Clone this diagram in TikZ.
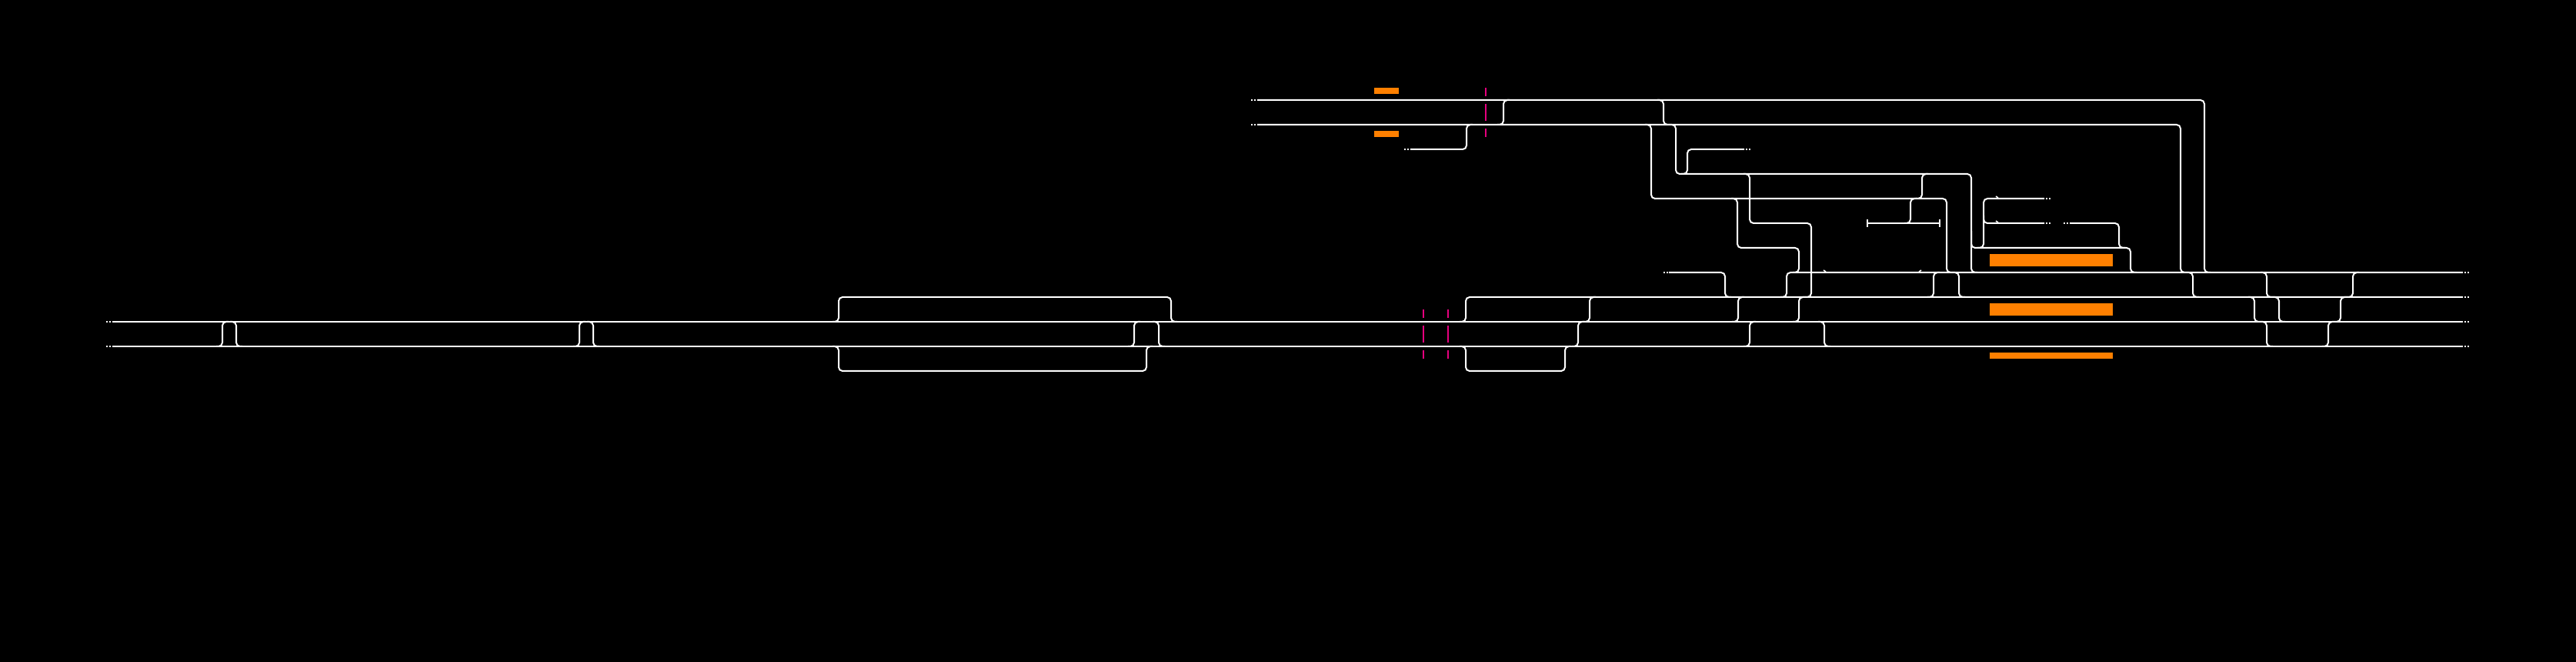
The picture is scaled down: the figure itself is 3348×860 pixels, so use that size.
\documentclass[tikz,border=0pt]{standalone}
\usepackage{tikz}

\definecolor{platformorange}{RGB}{255,128,0}
\definecolor{signalmagenta}{RGB}{230,0,126}

\begin{document}
\begin{tikzpicture}[
    x=0.1mm, y=-0.1mm,
    track/.style={draw=white,line width=0.2mm,rounded corners=0.5mm},
    trackend/.style={draw=white,line width=0.2mm,dash pattern=on 0.2mm off 0.2mm},
    platform/.style={fill=platformorange},
    signal/.style={draw=signalmagenta,line width=0.2mm,dash pattern=on 2.2mm off 1mm,dash phase=1.1mm},
    tick/.style={draw=white,line width=0.15mm}
]

\fill[black] (0,0) rectangle (3348,860);

% Platforms
\fill[platform] (1786,114) rectangle (1818,122);
\fill[platform] (1786,170) rectangle (1818,178);
\fill[platform] (2586,330) rectangle (2746,346);
\fill[platform] (2586,394) rectangle (2746,410);
\fill[platform] (2586,458) rectangle (2746,466);

% Signals
\draw[signal] (1931,114) -- (1931,178);
\draw[signal] (1850,402) -- (1850,466);
\draw[signal] (1882,402) -- (1882,466);

% Main line
\draw[trackend] (138,418) -- (145,418);
\draw[trackend] (138,450) -- (145,450);
\draw[track] (146,418) -- (3201,418);
\draw[track] (146,450) -- (3201,450);
\draw[trackend] (3203,418) -- (3210,418);
\draw[trackend] (3203,450) -- (3210,450);

% Loops along the main line
\draw[track] (1082,418) -- (1090,418) -- (1090,386) -- (1522,386) -- (1522,418) -- (1530,418);
\draw[track] (1082,450) -- (1090,450) -- (1090,482) -- (1490,482) -- (1490,450) -- (1498,450);
\draw[track] (1897,450) -- (1905,450) -- (1905,482) -- (2034,482) -- (2034,450) -- (2042,450);

% Station tracks
\draw[track] (1897,418) -- (1905,418) -- (1905,386) -- (3201,386);
\draw[trackend] (3203,386) -- (3210,386);
\draw[trackend] (2162,354) -- (2168,354);
\draw[track] (2169,354) -- (2242,354) -- (2242,386) -- (2250,386);
\draw[track] (2314,386) -- (2322,386) -- (2322,354) -- (3201,354);
\draw[trackend] (3203,354) -- (3210,354);

% Upper branch
\draw[trackend] (1626,130) -- (1633,130);
\draw[trackend] (1626,162) -- (1633,162);
\draw[track] (1634,130) -- (2865,130) -- (2865,354) -- (2873,354);
\draw[track] (1634,162) -- (2834,162) -- (2834,354) -- (2842,354);
\draw[trackend] (1825,194) -- (1832,194);
\draw[track] (1833,194) -- (1906,194) -- (1906,162) -- (1914,162);
\draw[track] (2185,226) -- (2193,226) -- (2193,194) -- (2267,194);
\draw[trackend] (2269,194) -- (2276,194);
\draw[track] (2170,162) -- (2178,162) -- (2178,226) -- (2562,226) -- (2562,354) -- (2570,354);
\draw[track] (2138,162) -- (2146,162) -- (2146,258) -- (2530,258) -- (2530,354) -- (2538,354);
\draw[track] (2266,226) -- (2274,226) -- (2274,290) -- (2354,290) -- (2354,386) -- (2346,386);
\draw[track] (2250,258) -- (2258,258) -- (2258,322) -- (2338,322) -- (2338,354) -- (2330,354);
\draw[track] (2562,300) -- (2562,322) -- (2769,322) -- (2769,354) -- (2777,354);

% Sidings
\draw[track] (2427,290) -- (2521,290);
\draw[tick] (2427,285) -- (2427,295);
\draw[tick] (2521,285) -- (2521,295);
\draw[track] (2491,258) -- (2483,258) -- (2483,290) -- (2475,290);
\draw[track] (2506,226) -- (2498,226) -- (2498,258) -- (2490,258);
\draw[track] (2657,258) -- (2578,258) -- (2578,322) -- (2570,322);
\draw[track] (2578,280) -- (2578,290) -- (2657,290);
\draw[trackend] (2659,258) -- (2666,258);
\draw[trackend] (2659,290) -- (2666,290);
\draw[trackend] (2682,290) -- (2689,290);
\draw[track] (2690,290) -- (2754,290) -- (2754,322) -- (2762,322);

% Crossovers
\draw[track] (1962,130) -- (1954,130) -- (1954,162) -- (1946,162);
\draw[track] (2154,130) -- (2162,130) -- (2162,162) -- (2170,162);
\draw[track] (2521,354) -- (2513,354) -- (2513,386) -- (2505,386);
\draw[track] (2538,354) -- (2546,354) -- (2546,386) -- (2554,386);
\draw[track] (2842,354) -- (2850,354) -- (2850,386) -- (2858,386);
\draw[track] (2938,354) -- (2946,354) -- (2946,386) -- (2954,386);
\draw[track] (3066,354) -- (3058,354) -- (3058,386) -- (3050,386);
\draw[track] (2074,386) -- (2066,386) -- (2066,418) -- (2058,418);
\draw[track] (2267,386) -- (2259,386) -- (2259,418) -- (2251,418);
\draw[track] (2346,386) -- (2338,386) -- (2338,418) -- (2330,418);
\draw[track] (2922,386) -- (2930,386) -- (2930,418) -- (2938,418);
\draw[track] (2954,386) -- (2962,386) -- (2962,418) -- (2970,418);
\draw[track] (3050,386) -- (3042,386) -- (3042,418) -- (3034,418);
\draw[track] (297,418) -- (289,418) -- (289,450) -- (281,450);
\draw[track] (299,418) -- (307,418) -- (307,450) -- (315,450);
\draw[track] (761,418) -- (753,418) -- (753,450) -- (745,450);
\draw[track] (763,418) -- (771,418) -- (771,450) -- (779,450);
\draw[track] (1482,418) -- (1474,418) -- (1474,450) -- (1466,450);
\draw[track] (1498,418) -- (1506,418) -- (1506,450) -- (1514,450);
\draw[track] (2059,418) -- (2051,418) -- (2051,450) -- (2043,450);
\draw[track] (2282,418) -- (2274,418) -- (2274,450) -- (2266,450);
\draw[track] (2363,418) -- (2371,418) -- (2371,450) -- (2379,450);
\draw[track] (2938,418) -- (2946,418) -- (2946,450) -- (2954,450);
\draw[track] (3034,418) -- (3026,418) -- (3026,450) -- (3018,450);

% Direction marks
\draw[tick] (2370,351) -- (2373,353);
\draw[tick] (2497,351) -- (2494,353);
\draw[tick] (2594,255) -- (2597,257);
\draw[tick] (2594,287) -- (2597,289);

\end{tikzpicture}
\end{document}
